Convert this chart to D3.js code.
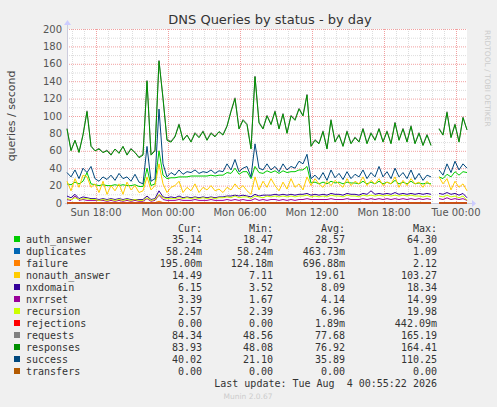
<!DOCTYPE html>
<html><head><meta charset="utf-8">
<script src="https://cdn.jsdelivr.net/npm/d3@7"></script>
<style>body{margin:0;background:#f0f0f0}svg{display:block}</style>
</head><body><svg id="c" width="497" height="407"></svg>
<script>
// 20-minute samples, Sun 15:35 -> Tue 00:55 (null = gap)
const startTime = new Date(2026, 7, 2, 15, 35);
const stepMin = 20;
const yTicks = [0, 20, 40, 60, 80, 100, 120, 140, 160, 180, 200];
const xTickLabels = ["Sun 18:00", "Mon 00:00", "Mon 06:00", "Mon 12:00", "Mon 18:00", "Tue 00:00"];

const responses = [85,60,72,58,78,105,65,60,62,58,60,55,62,57,65,55,62,58,52,55,140,55,60,163,120,72,70,76,90,72,78,70,80,75,82,72,80,76,82,78,88,105,120,85,95,90,62,145,92,85,100,90,105,85,102,80,100,95,108,100,124,65,72,68,82,62,95,70,78,65,82,68,75,70,85,68,80,72,85,70,82,68,92,72,85,70,88,68,80,66,78,66,null,85,78,104,75,90,70,98,84];
const requests = [86,61,72,59,79,106,66,60,63,58,61,56,62,58,65,56,63,58,53,56,141,56,61,164,121,73,71,77,91,73,78,71,81,76,83,73,81,77,82,79,89,106,121,86,96,91,63,146,93,86,101,91,106,86,103,81,101,96,109,101,125,66,73,69,83,63,96,71,79,66,83,69,76,71,86,69,81,73,86,71,83,69,93,73,86,71,89,69,81,67,79,67,null,86,79,105,76,91,71,99,84];
const success = [35,30,38,28,40,35,42,28,25,30,27,32,26,34,28,30,25,33,24,22,65,25,28,108,45,30,35,32,38,33,36,35,38,34,36,35,38,34,37,36,45,38,50,36,40,42,30,68,40,38,45,38,42,36,45,38,42,40,48,45,56,28,32,27,35,26,38,29,34,27,36,28,33,30,38,28,35,30,42,30,36,28,40,30,35,28,38,27,34,26,32,30,null,38,32,45,35,48,38,45,40];
const authAnswer = [22,21,24,22,25,35,22,21,20,21,20,20,21,20,21,20,20,21,19,19,40,20,22,60,32,28,29,29,30,30,30,31,31,31,31,31,32,31,32,32,35,34,40,33,36,36,28,42,35,34,37,35,37,34,37,35,36,36,38,38,42,23,24,22,24,22,25,23,24,22,24,23,23,22,25,22,24,22,25,22,24,22,26,22,24,22,25,22,23,22,23,22,null,30,28,33,30,36,32,36,35];
const nonauthAnswer = [25,14,28,18,32,30,18,22,12,25,10,20,14,22,10,24,15,20,12,14,30,15,20,45,22,12,18,20,25,12,18,14,22,12,18,15,20,14,16,12,18,15,22,16,20,14,10,30,15,25,18,28,20,14,24,16,28,18,22,15,30,20,28,22,18,25,20,26,22,18,28,20,25,22,30,20,26,22,28,20,24,22,30,18,26,20,28,22,24,18,25,20,null,30,22,28,15,25,18,22,14];
const nxdomain = [8,6,10,5,7,6,5,5,4,5,4,5,4,5,4,5,4,4,4,4,8,4,5,14,7,6,7,6,8,6,7,6,7,6,7,6,7,6,7,7,8,8,9,8,9,8,7,10,8,9,9,9,10,9,10,9,10,9,10,10,11,9,10,9,10,9,11,10,10,9,11,10,10,9,11,10,14,10,11,10,11,10,12,10,11,10,11,10,11,10,11,10,null,11,10,12,10,11,9,11,6];
const nxrrset = [4,3,8,3,4,3,3,3,3,3,2,3,2,3,2,3,2,3,2,2,5,2,3,9,4,3,3,3,4,3,3,3,4,3,3,3,4,3,3,3,4,3,4,3,4,3,3,5,3,4,3,4,4,3,4,3,4,3,4,4,5,4,4,4,4,4,5,4,4,4,5,4,4,4,5,4,5,4,5,4,5,4,5,4,5,4,5,4,5,4,5,4,null,5,4,6,4,5,4,5,3];
const recursion = [5,4,6,4,5,5,4,4,3,4,3,4,3,4,3,4,3,4,3,3,6,3,4,10,6,5,5,5,6,5,6,5,6,5,6,5,6,5,6,6,7,6,8,6,7,7,5,8,7,6,8,7,8,7,8,7,8,7,8,8,9,7,8,7,8,7,9,8,8,7,9,8,8,7,9,8,9,8,9,8,9,8,9,8,9,8,9,8,8,7,8,7,null,8,7,9,7,8,6,8,3];
const failure = [0.3,0.2,0.3,0.2,0.2,0.3,0.2,0.2,0.2,0.2,0.2,0.2,0.2,0.2,0.2,0.2,0.2,0.2,0.2,0.2,0.5,0.2,0.3,2,0.5,0.2,0.2,0.2,0.3,0.2,0.2,0.2,0.2,0.2,0.2,0.2,0.2,0.2,0.2,0.2,0.3,0.2,0.3,0.2,0.2,0.2,0.2,0.4,0.2,0.2,0.2,0.2,0.2,0.2,0.2,0.2,0.2,0.2,0.2,0.2,0.3,0.2,0.2,0.2,0.2,0.2,0.2,0.2,0.2,0.2,0.2,0.2,0.2,0.2,0.2,0.2,0.2,0.2,0.2,0.2,0.2,0.2,0.2,0.2,0.2,0.2,0.2,0.2,0.2,0.2,0.2,0.2,null,0.2,0.2,0.2,0.2,0.2,0.2,0.2,0.2];
const zeros = d3.range(101).map((i) => (i === 92 ? null : 0));

const names = ["auth_answer","duplicates","failure","nonauth_answer","nxdomain","nxrrset","recursion","rejections","requests","responses","success","transfers"];
const colors = ["#00CC00","#0066B3","#FF8000","#FFCC00","#330099","#990099","#CCFF00","#FF0000","#808080","#008F00","#00487D","#B35A00"];
const seriesData = [authAnswer, zeros, failure, nonauthAnswer, nxdomain, nxrrset, recursion, zeros, requests, responses, success, zeros];
const curVals = ["35.14","58.24m","195.00m","14.49","6.15","3.39","2.57","0.00","84.34","83.93","40.02","0.00"];
const minVals = ["18.47","58.24m","124.18m","7.11","3.52","1.67","2.39","0.00","48.56","48.08","21.10","0.00"];
const avgVals = ["28.57","463.73m","696.88m","19.61","8.09","4.14","6.96","1.89m","77.68","76.92","35.89","0.00"];
const maxVals = ["64.30","1.09","2.12","103.27","18.34","14.99","19.98","442.09m","165.19","164.41","110.25","0.00"];

const svg = d3.select("#c");
const L = 67, R = 467, T = 29, B = 203;
const endTime = new Date(startTime.getTime() + 100 * stepMin * 60000);
const x = d3.scaleTime().domain([startTime, endTime]).range([L, R]);
const y = d3.scaleLinear().domain([0, 200]).range([B, T]);

svg.append("rect").attr("x", L).attr("y", T).attr("width", R - L).attr("height", B - T).attr("fill", "#fff");

// minor grid
const g = svg.append("g");
d3.range(10, 200, 20).forEach((v) => g.append("line").attr("x1", L).attr("x2", R).attr("y1", y(v) + 0.5).attr("y2", y(v) + 0.5).attr("stroke", "#ddd").attr("stroke-dasharray", "1,1"));
x.ticks(d3.timeHour.every(1)).forEach((t) => g.append("line").attr("x1", Math.round(x(t)) + 0.5).attr("x2", Math.round(x(t)) + 0.5).attr("y1", T).attr("y2", B).attr("stroke", "#ddd").attr("stroke-dasharray", "1,1"));
// major grid
const majors = x.ticks(d3.timeHour.every(6));
yTicks.forEach((v) => g.append("line").attr("x1", L).attr("x2", R).attr("y1", y(v) + 0.5).attr("y2", y(v) + 0.5).attr("stroke", "#f2a0a0").attr("stroke-dasharray", "1,1"));
majors.forEach((t) => g.append("line").attr("x1", Math.round(x(t)) + 0.5).attr("x2", Math.round(x(t)) + 0.5).attr("y1", T).attr("y2", B).attr("stroke", "#f2a0a0").attr("stroke-dasharray", "1,1"));

// axes
svg.selectAll(".yl").data(yTicks).join("text").attr("x", L - 5).attr("y", (d) => y(d) + 3.5)
  .attr("text-anchor", "end").attr("font-family", "DejaVu Sans").attr("font-size", 10).attr("fill", "#555").text((d) => d);
svg.selectAll(".xl").data(majors).join("text").attr("x", (d) => x(d)).attr("y", B + 13)
  .attr("text-anchor", "middle").attr("font-family", "DejaVu Sans").attr("font-size", 10).attr("fill", "#555").text((d, i) => xTickLabels[i]);
svg.append("line").attr("x1", L - 2).attr("x2", R + 5).attr("y1", B + 0.5).attr("y2", B + 0.5).attr("stroke", "#ccd");
svg.append("line").attr("x1", L + 0.5).attr("x2", L + 0.5).attr("y1", B + 2).attr("y2", T - 5).attr("stroke", "#ccd");
svg.append("path").attr("d", `M${R + 5},${B - 3}L${R + 9},${B + 0.5}L${R + 5},${B + 4}Z`).attr("fill", "#ccf");
svg.append("path").attr("d", `M${L - 3},${T - 4}L${L + 0.5},${T - 9}L${L + 4},${T - 4}Z`).attr("fill", "#ccf");

// lines
const line = d3.line().defined((d) => d != null)
  .x((d, i) => x(new Date(startTime.getTime() + i * stepMin * 60000))).y((d) => y(d));
seriesData.forEach((s, k) => {
  svg.append("path").attr("d", line(s)).attr("fill", "none").attr("stroke", colors[k]).attr("stroke-width", 1);
});

// texts
svg.append("text").attr("x", 270).attr("y", 24).attr("text-anchor", "middle").attr("font-family", "DejaVu Sans").attr("font-size", 13).attr("fill", "#333").text("DNS Queries by status - by day");
svg.append("text").attr("transform", "translate(15,116) rotate(-90)").attr("text-anchor", "middle").attr("font-family", "DejaVu Sans").attr("font-size", 11).attr("fill", "#444").text("queries / second");
svg.append("text").attr("transform", "translate(485,30) rotate(90)").attr("font-family", "DejaVu Sans").attr("font-size", 7.5).attr("fill", "#ccc").text("RRDTOOL / TOBI OETIKER");

const mono = { "font-family": "DejaVu Sans Mono", "font-size": 10, fill: "#333" };
function txt(xx, yy, s, anchor) {
  const t = svg.append("text").attr("x", xx).attr("y", yy).attr("text-anchor", anchor || "start").text(s);
  Object.entries(mono).forEach(([k, v]) => t.attr(k, v));
  return t;
}
txt(202, 232, "Cur:", "end"); txt(273, 232, "Min:", "end"); txt(345, 232, "Avg:", "end"); txt(437, 232, "Max:", "end");
names.forEach((n, i) => {
  const yy = 243 + i * 12;
  svg.append("rect").attr("x", 14).attr("y", yy - 7).attr("width", 6).attr("height", 6).attr("fill", colors[i]);
  txt(26, yy, n);
  txt(202, yy, curVals[i], "end");
  txt(273, yy, minVals[i], "end");
  txt(345, yy, avgVals[i], "end");
  txt(437, yy, maxVals[i], "end");
});
txt(437, 387, "Last update: Tue Aug  4 00:55:22 2026", "end").attr("xml:space", "preserve").style("white-space", "pre");
svg.append("text").attr("x", 248).attr("y", 399).attr("text-anchor", "middle").attr("font-family", "DejaVu Sans").attr("font-size", 7.5).attr("fill", "#ccc").text("Munin 2.0.67");
</script></body></html>
